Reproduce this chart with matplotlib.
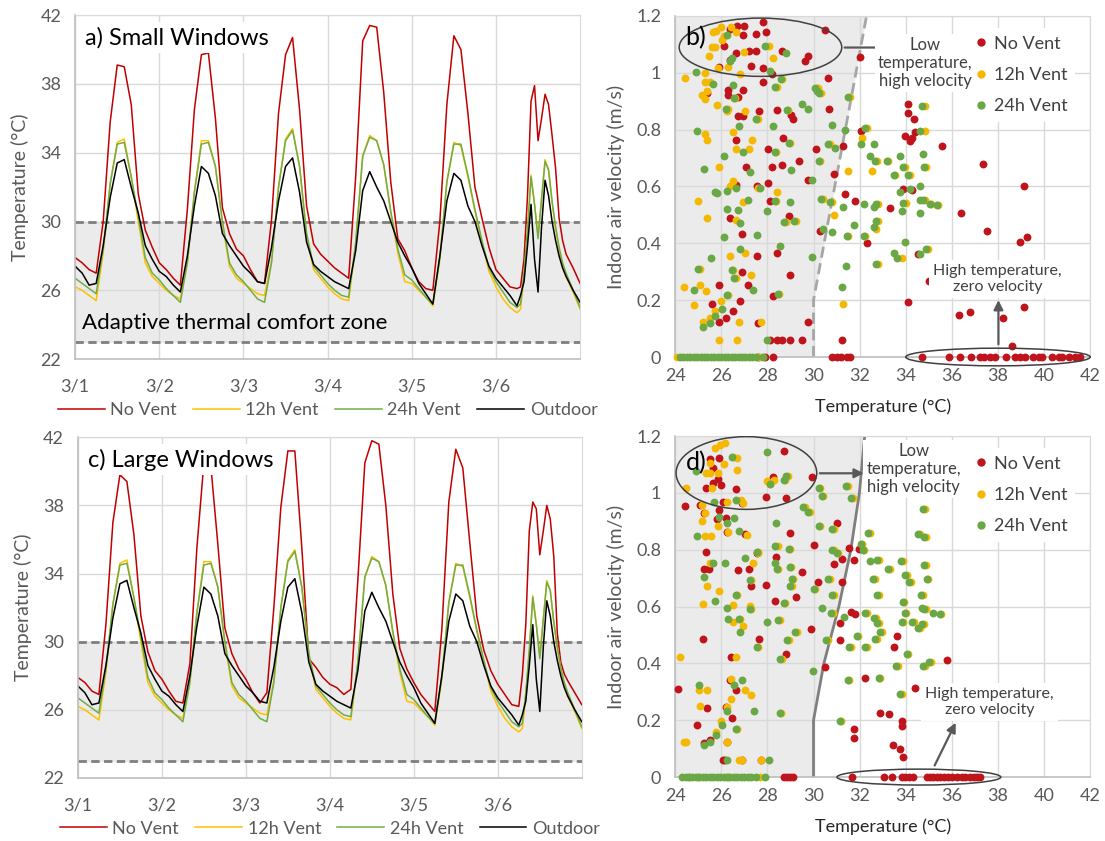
import matplotlib.pyplot as plt
from matplotlib.patches import Ellipse
from matplotlib.lines import Line2D

plt.rcParams['font.family'] = ['Lato', 'DejaVu Sans']

RED = '#c00000'
ORANGE = '#ffc000'
GREEN = '#70ad47'
DOT_RED = '#c0141c'
DOT_ORANGE = '#f5b800'
DOT_GREEN = '#6aa745'
GRAY_TXT = '#595959'

# ---- time series (hours from 3/1 00:00) ----
hours = list(range(0, 128, 2)) + list(range(127, 141)) + [142, 144]
day_labels = ['3/1', '3/2', '3/3', '3/4', '3/5', '3/6']

no_vent_small = [27.9, 27.6, 27.2, 27.0, 30.0, 35.8, 39.1, 39.0, 36.8, 31.6, 29.5, 28.5,
                 27.6, 27.2, 26.7, 26.3, 30.7, 36.5, 39.7, 39.8, 36.0, 30.8, 29.3, 28.4,
                 28.0, 27.2, 26.5, 26.4, 30.1, 36.3, 39.7, 40.7, 36.5, 30.9, 28.7, 28.1,
                 27.7, 27.3, 27.0, 26.7, 32.6, 40.5, 41.4, 41.3, 37.5, 32.3, 29.0, 28.3,
                 27.3, 26.5, 26.1, 26.0, 30.0, 36.8, 40.8, 40.0, 36.3, 32.0, 30.2, 28.5,
                 27.2, 26.7, 26.2, 26.1,
                 26.2, 27.8, 31.5, 37.0, 37.9, 34.7, 36.0, 37.4, 36.8, 35.0, 33.1, 30.2, 28.9, 28.1,
                 27.3, 26.4]
no_vent_large = [27.9, 27.6, 27.1, 26.9, 31.0, 37.0, 39.8, 39.4, 36.3, 31.5, 29.4, 28.3,
                 27.8, 27.1, 26.5, 26.4, 28.7, 35.5, 40.5, 40.3, 35.7, 30.8, 29.3, 28.4,
                 27.8, 27.0, 26.4, 27.0, 32.0, 37.9, 41.2, 41.2, 35.5, 29.0, 28.5, 27.9,
                 27.5, 27.3, 26.9, 27.2, 33.6, 40.5, 41.8, 41.6, 38.0, 32.8, 29.6, 28.4,
                 27.6, 26.9, 26.4, 25.9, 30.7, 38.2, 41.3, 40.2, 35.8, 31.5, 29.5, 28.3,
                 27.5, 26.9, 26.3, 26.2,
                 28.0, 31.0, 36.5, 38.2, 37.8, 35.1, 36.5, 38.0, 37.2, 35.0, 30.5, 28.8, 28.1, 27.7,
                 27.0, 26.3]
vent_12h = [26.2, 26.0, 25.7, 25.4, 28.2, 32.2, 34.6, 34.8, 32.6, 30.0, 27.6, 26.8,
            26.4, 26.0, 25.7, 25.5, 27.6, 31.7, 34.7, 34.7, 33.2, 29.9, 27.4, 26.7,
            26.4, 26.1, 25.8, 25.7, 27.7, 32.0, 34.8, 35.4, 33.2, 29.2, 27.2, 26.7,
            26.2, 25.8, 25.5, 25.4, 28.7, 33.8, 35.0, 34.7, 33.3, 30.5, 28.2, 26.5,
            26.4, 26.0, 25.6, 25.1, 27.8, 32.3, 34.6, 34.4, 32.6, 30.6, 28.8, 27.1,
            26.2, 25.5, 25.0, 24.7,
            24.9, 26.8, 29.4, 32.7, 31.0, 29.2, 31.3, 33.6, 33.0, 31.1, 29.6, 28.4, 27.4, 26.8,
            25.9, 24.9]
vent_24h = [26.7, 26.4, 26.1, 25.8, 28.4, 32.2, 34.5, 34.6, 32.6, 30.3, 27.9, 27.0,
            26.6, 26.1, 25.7, 25.3, 27.6, 31.7, 34.5, 34.6, 33.2, 30.0, 27.6, 26.9,
            26.5, 26.0, 25.5, 25.3, 27.6, 32.0, 34.7, 35.3, 33.2, 29.3, 27.4, 26.9,
            26.4, 26.0, 25.7, 25.6, 28.8, 33.8, 34.9, 34.7, 33.3, 30.6, 28.4, 26.9,
            26.6, 26.1, 25.6, 25.2, 27.9, 32.3, 34.5, 34.5, 32.7, 30.7, 28.9, 27.3,
            26.5, 25.9, 25.3, 25.0,
            25.2, 27.0, 29.5, 32.6, 31.0, 29.0, 31.3, 33.5, 33.0, 31.2, 29.7, 28.5, 27.6, 27.0,
            26.0, 25.0]
outdoor = [27.4, 27.0, 26.3, 26.4, 28.6, 31.4, 33.4, 33.6, 32.0, 30.5, 28.6, 27.8,
           27.1, 26.8, 26.3, 25.9, 28.0, 30.9, 33.2, 32.8, 31.5, 29.3, 28.6, 28.0,
           27.4, 27.0, 26.5, 26.4, 28.5, 31.2, 33.2, 33.7, 31.7, 28.8, 27.5, 27.1,
           26.8, 26.5, 26.3, 26.1, 28.3, 31.8, 32.9, 32.0, 31.2, 30.0, 28.8, 28.0,
           27.3, 26.4, 25.8, 25.2, 28.0, 31.2, 32.8, 32.4, 30.9, 30.0, 28.6, 27.4,
           26.7, 26.2, 25.7, 25.1,
           25.7, 26.5, 28.6, 31.0, 27.8, 25.9, 29.7, 32.4, 31.5, 30.0, 28.9, 28.0, 27.3, 26.8,
           26.0, 25.3]

# ---- scatter data (temperature °C, air velocity m/s) ----
b_no_vent = [(27.83, 1.18), (26.67, 1.165), (26.99, 1.163), (26.38, 1.153), (26.93, 1.133), (27.5, 1.136),
             (27.93, 1.143), (30.5, 1.151), (26.14, 1.095), (27.21, 1.078), (27.5, 1.078), (28.65, 1.078),
             (26.62, 1.069), (29.78, 1.059), (29.64, 1.04), (27.31, 1.025), (27.79, 1.018), (25.92, 1.022),
             (26.36, 1.045), (32.0, 1.055), (28.19, 0.996), (30.62, 0.983), (27.83, 0.966), (26.31, 0.94),
             (26.31, 0.922), (26.96, 0.94), (25.37, 0.928), (26.73, 0.914), (30.68, 0.874), (27.63, 0.866),
             (28.42, 0.87), (29.03, 0.852), (29.09, 0.837), (26.72, 0.848), (26.96, 0.848), (32.05, 0.797),
             (28.67, 0.77), (26.62, 0.762), (28.02, 0.731), (30.1, 0.731), (31.3, 0.741), (29.38, 0.691),
             (28.63, 0.675), (28.19, 0.667), (27.08, 0.67), (30.9, 0.645), (29.78, 0.622), (28.02, 0.614),
             (27.54, 0.6), (26.63, 0.606), (31.37, 0.575), (31.81, 0.548), (28.12, 0.548), (28.94, 0.497),
             (26.36, 0.488), (30.29, 0.445), (26.89, 0.432), (32.31, 0.401), (27.54, 0.354), (28.41, 0.366),
             (26.89, 0.298), (28.99, 0.288), (27.15, 0.253), (25.88, 0.253), (25.59, 0.186), (26.21, 0.136),
             (26.53, 0.163), (25.88, 0.123), (26.82, 0.198), (28.24, 0.216), (27.59, 0.12), (29.74, 0.124),
             (28.12, 0.061), (28.41, 0.061), (28.63, 0.061), (28.99, 0.061), (29.51, 0.061), (31.23, 0.059),
             (34.08, 0.891), (34.08, 0.858), (34.38, 0.837), (35.57, 0.743), (33.97, 0.776), (34.26, 0.77),
             (34.19, 0.761), (34.4, 0.791), (37.37, 0.679), (39.11, 0.6), (36.4, 0.505), (33.32, 0.523),
             (37.52, 0.445), (38.97, 0.405), (39.25, 0.422), (34.55, 0.363), (34.99, 0.266), (34.12, 0.192),
             (39.11, 0.176), (36.33, 0.149), (36.79, 0.158), (38.24, 0.137), (38.6, 0.038), (33.9, 0.59),
             (34.26, 0.588),
             (27.6, 0), (27.9, 0), (28.26, 0), (30.8, 0), (31.0, 0), (31.2, 0), (31.45, 0), (31.6, 0),
             (34.7, 0), (35.86, 0), (36.37, 0), (36.85, 0), (37.24, 0), (37.38, 0), (37.67, 0), (37.89, 0),
             (38.36, 0), (38.75, 0), (38.97, 0), (39.18, 0), (39.54, 0), (39.76, 0), (39.9, 0), (40.34, 0),
             (40.63, 0), (40.77, 0), (41.06, 0), (41.35, 0), (41.54, 0)]
b_vent_12h = [(25.98, 1.16), (25.76, 1.148), (25.62, 1.143), (26.41, 1.16), (26.65, 1.143), (26.1, 1.13),
              (26.02, 1.116), (25.59, 1.092), (25.73, 1.092), (28.05, 1.095), (25.45, 1.059), (26.99, 1.072),
              (28.24, 1.051), (25.87, 1.016), (26.31, 1.022), (26.82, 0.996), (25.3, 1.001), (24.43, 0.983),
              (25.3, 0.969), (25.52, 0.969), (25.16, 0.922), (25.3, 0.907), (25.37, 0.937), (25.81, 0.888),
              (26.24, 0.864), (27.03, 0.866), (27.57, 0.837), (26.5, 0.791), (25.3, 0.783), (25.4, 0.762),
              (26.65, 0.731), (27.35, 0.762), (27.22, 0.731), (25.88, 0.67), (31.49, 0.656), (32.53, 0.656),
              (26.5, 0.618), (26.36, 0.6), (28.41, 0.582), (26.93, 0.545), (25.01, 0.548), (25.4, 0.488),
              (26.62, 0.483), (30.91, 0.5), (27.01, 0.366), (26.36, 0.354), (27.28, 0.288), (24.39, 0.246),
              (25.08, 0.253), (25.34, 0.231), (24.81, 0.184), (26.0, 0.196), (25.71, 0.163), (25.49, 0.136),
              (25.2, 0.123), (26.78, 0.123), (27.72, 0.123), (25.92, 0.061), (26.67, 0.061), (31.27, 0.188),
              (32.32, 0.805), (32.1, 0.77), (31.57, 0.916), (30.2, 0.945), (30.33, 0.93), (34.83, 0.884),
              (34.85, 0.797), (34.9, 0.67), (34.97, 0.38), (33.82, 0.348), (32.8, 0.327), (32.8, 0.477),
              (32.8, 0.537), (32.7, 0.45), (34.0, 0.541), (35.1, 0.54), (35.42, 0.536), (34.85, 0.553),
              (30.7, 0.748), (34.2, 0.641), (33.55, 0.641), (33.96, 0.667), (33.25, 0.688), (32.75, 0.688),
              (30.3, 0.688), (32.25, 0.427), (31.5, 0.427), (30.4, 0.557), (30.8, 0.545), (28.39, 0.548),
              (28.8, 0.475), (29.25, 0.479), (27.6, 0.596), (28.37, 0.723), (29.0, 0.752), (28.9, 0.87),
              (30.14, 0.948), (28.65, 0.977), (28.4, 0.951), (26.6, 0.913), (26.3, 0.874), (27.58, 0.839),
              (25.07, 0.309), (26.52, 0.307), (26.62, 0.277), (28.52, 0.223), (26.3, 0.219),
              (24.07, 0), (27.69, 0)]
b_vent_24h = [(24.9, 1.003), (26.24, 1.134), (27.9, 1.095), (28.81, 1.069), (26.38, 1.04), (26.46, 1.051),
              (28.12, 1.008), (28.58, 0.977), (26.53, 0.956), (25.66, 0.961), (28.34, 0.951), (26.56, 0.913),
              (30.07, 0.948), (30.14, 0.937), (30.26, 0.928), (31.49, 0.916), (29.52, 0.891), (29.74, 0.874),
              (28.84, 0.87), (26.2, 0.874), (27.51, 0.839), (26.78, 0.813), (28.26, 0.813), (24.94, 0.797),
              (30.81, 0.817), (31.37, 0.799), (32.24, 0.805), (28.92, 0.752), (30.62, 0.748), (30.95, 0.736),
              (32.05, 0.748), (32.63, 0.748), (26.96, 0.723), (28.31, 0.723), (26.14, 0.708), (32.43, 0.709),
              (33.76, 0.709), (34.74, 0.714), (30.22, 0.688), (32.68, 0.688), (33.18, 0.688), (33.87, 0.667),
              (34.81, 0.67), (25.23, 0.661), (27.24, 0.65), (29.03, 0.659), (33.47, 0.641), (34.12, 0.641),
              (29.93, 0.624), (25.81, 0.577), (25.73, 0.582), (26.24, 0.585), (26.62, 0.596), (27.69, 0.596),
              (33.73, 0.579), (34.19, 0.59), (34.6, 0.6), (27.18, 0.553), (28.31, 0.548), (28.96, 0.545),
              (30.33, 0.557), (30.72, 0.545), (32.17, 0.54), (33.9, 0.541), (34.6, 0.553), (34.77, 0.553),
              (35.06, 0.54), (35.35, 0.536), (26.24, 0.521), (26.72, 0.518), (28.0, 0.513), (31.27, 0.527),
              (32.63, 0.527), (32.72, 0.537), (33.83, 0.513), (34.63, 0.506), (26.82, 0.473), (28.74, 0.475),
              (29.17, 0.479), (30.43, 0.45), (30.81, 0.439), (31.76, 0.465), (32.63, 0.456), (32.72, 0.477),
              (26.1, 0.422), (27.54, 0.431), (31.45, 0.427), (32.17, 0.427), (33.97, 0.404), (26.82, 0.38),
              (28.53, 0.391), (29.93, 0.353), (25.56, 0.349), (33.47, 0.366), (33.61, 0.348), (34.6, 0.363),
              (34.89, 0.38), (25.01, 0.309), (26.46, 0.307), (26.56, 0.277), (31.42, 0.319), (32.72, 0.327),
              (27.37, 0.237), (24.8, 0.237), (26.24, 0.219), (28.45, 0.223), (31.23, 0.248), (26.02, 0.17),
              (25.52, 0.12), (25.2, 0.105), (25.74, 0.143), (27.98, 0.061), (34.7, 0.884), (34.6, 0.797),
              (24.2, 0), (24.35, 0), (24.5, 0), (24.65, 0), (24.8, 0), (24.95, 0), (25.1, 0), (25.25, 0),
              (25.4, 0), (25.55, 0), (25.7, 0), (25.85, 0), (26.0, 0), (26.15, 0), (26.3, 0), (26.45, 0),
              (26.6, 0), (26.75, 0), (26.9, 0), (27.05, 0), (27.2, 0), (27.35, 0), (27.5, 0), (27.83, 0)]

d_no_vent = [(25.92, 1.122), (25.52, 1.118), (25.63, 1.086), (25.85, 1.048), (25.66, 1.034), (26.0, 1.028),
             (25.34, 1.018), (26.63, 1.014), (28.74, 1.148), (28.24, 1.055), (29.93, 1.055), (27.93, 0.984),
             (28.81, 0.981), (26.89, 0.963), (24.43, 0.954), (25.08, 0.957), (26.07, 0.969), (25.89, 0.94),
             (25.23, 0.93), (25.81, 0.907), (26.21, 0.913), (26.24, 0.864), (28.96, 0.858), (27.05, 0.855),
             (31.03, 0.893), (30.03, 0.816), (31.56, 0.807), (31.99, 0.802), (25.32, 0.793), (27.57, 0.788),
             (28.38, 0.776), (31.23, 0.768), (31.76, 0.764), (25.26, 0.732), (25.45, 0.732), (27.2, 0.732),
             (26.72, 0.729), (30.91, 0.75), (29.48, 0.72), (30.19, 0.686), (31.23, 0.686), (27.93, 0.676),
             (27.28, 0.673), (29.23, 0.633), (28.34, 0.62), (31.61, 0.58), (31.79, 0.573), (31.16, 0.543),
             (29.87, 0.52), (31.13, 0.483), (25.2, 0.486), (27.64, 0.486), (33.61, 0.495), (33.5, 0.459),
             (28.81, 0.432), (26.41, 0.424), (35.78, 0.412), (30.51, 0.389), (32.24, 0.35), (34.41, 0.313),
             (24.14, 0.309), (26.36, 0.342), (26.62, 0.305), (25.37, 0.243), (26.21, 0.246), (26.46, 0.207),
             (24.94, 0.184), (32.89, 0.225), (33.28, 0.221), (33.83, 0.196), (33.83, 0.178), (31.76, 0.169),
             (31.76, 0.139), (33.44, 0.114), (33.73, 0.1), (33.9, 0.069), (25.23, 0.12), (25.52, 0.129),
             (26.24, 0.122), (26.07, 0.061), (26.17, 0.061), (26.89, 0.061), (27.72, 0.061),
             (28.7, 0), (28.84, 0), (28.96, 0), (29.1, 0), (31.66, 0), (33.04, 0), (33.4, 0), (33.83, 0),
             (33.98, 0), (34.16, 0), (34.31, 0), (34.92, 0), (35.06, 0), (35.18, 0), (35.35, 0), (35.49, 0),
             (35.64, 0), (35.83, 0), (36.0, 0), (36.22, 0), (36.43, 0), (36.58, 0), (36.77, 0), (36.94, 0),
             (37.08, 0), (37.23, 0)]
d_vent_12h = [(26.17, 1.174), (25.95, 1.168), (25.73, 1.157), (25.49, 1.106), (26.69, 1.124), (26.1, 1.102),
              (25.33, 1.071), (25.52, 1.069), (25.84, 1.071), (26.67, 1.081), (25.59, 1.016), (24.48, 1.016),
              (27.98, 1.042), (28.27, 1.045), (26.24, 0.969), (26.85, 0.975), (26.93, 0.963), (25.16, 0.957),
              (25.3, 0.928), (25.16, 0.902), (25.3, 0.85), (25.55, 0.85), (25.84, 0.885), (26.28, 0.864),
              (27.1, 0.852), (25.5, 0.752), (27.37, 0.752), (27.61, 0.788), (25.37, 0.674), (25.91, 0.656),
              (25.2, 0.608), (26.5, 0.604), (26.96, 0.533), (26.5, 0.547), (27.23, 0.602), (24.22, 0.424),
              (26.63, 0.424), (26.41, 0.345), (26.41, 0.274), (27.04, 0.305), (27.3, 0.289), (25.08, 0.251),
              (25.05, 0.305), (25.37, 0.305), (26.24, 0.246), (25.77, 0.157), (24.39, 0.122), (24.48, 0.122),
              (26.24, 0.122), (26.0, 0.196), (26.79, 0.061), (26.89, 0.061), (27.72, 0.061), (33.83, 0.292),
              (31.19, 0.199),
              (34.85, 0.942), (34.88, 0.846), (34.62, 0.854), (32.43, 0.858), (32.1, 0.82), (32.2, 0.799),
              (30.9, 0.799), (31.08, 0.788), (30.88, 0.872), (30.3, 0.885), (30.42, 0.989), (31.7, 0.981),
              (31.5, 1.024), (30.28, 1.016), (29.85, 0.934), (29.62, 0.949), (33.88, 0.759), (32.85, 0.764),
              (34.88, 0.745), (33.3, 0.732), (34.05, 0.711), (32.68, 0.697), (34.98, 0.697), (34.24, 0.686),
              (30.7, 0.697), (32.82, 0.641), (34.75, 0.641), (30.9, 0.641), (30.08, 0.662), (33.94, 0.615),
              (34.03, 0.577), (34.89, 0.591), (35.55, 0.573), (32.32, 0.577), (30.83, 0.577), (32.7, 0.559),
              (32.82, 0.543), (33.9, 0.547), (34.36, 0.544), (34.78, 0.538), (34.6, 0.526), (32.96, 0.511),
              (32.75, 0.486), (31.95, 0.495), (30.62, 0.482), (31.62, 0.456), (32.3, 0.456), (34.12, 0.434),
              (35.08, 0.404), (34.82, 0.391), (33.66, 0.391), (31.56, 0.342), (32.9, 0.348), (28.62, 0.416),
              (29.03, 0.738), (28.48, 0.732), (27.6, 0.792), (29.0, 0.802), (28.45, 0.813), (29.13, 0.696),
              (29.07, 0.674), (27.3, 0.694), (26.7, 0.639), (28.77, 0.612), (26.82, 0.557), (27.3, 0.591),
              (28.55, 0.551), (28.92, 0.482), (29.28, 0.511), (27.6, 0.459), (28.6, 0.225), (26.7, 0.169),
              (28.1, 1.03), (28.77, 1.045), (28.88, 1.059), (26.53, 1.125),
              (24.6, 0), (25.0, 0), (26.3, 0), (27.69, 0)]
d_vent_24h = [(24.91, 1.077), (26.46, 1.125), (27.98, 1.145), (28.7, 1.045), (28.81, 1.059), (28.12, 1.03),
              (26.63, 0.975), (25.69, 0.969), (30.22, 1.016), (30.36, 0.989), (31.42, 1.024), (31.63, 0.981),
              (29.56, 0.949), (29.78, 0.934), (25.88, 0.916), (26.24, 0.895), (26.56, 0.91), (28.38, 0.893),
              (24.94, 0.85), (26.79, 0.867), (30.22, 0.885), (30.82, 0.872), (32.36, 0.858), (34.55, 0.854),
              (34.81, 0.846), (34.77, 0.942), (32.05, 0.82), (32.14, 0.799), (30.82, 0.799), (31.0, 0.788),
              (28.34, 0.813), (28.93, 0.802), (27.54, 0.792), (27.01, 0.772), (25.62, 0.755), (26.17, 0.755),
              (28.34, 0.755), (28.41, 0.732), (28.96, 0.738), (32.45, 0.759), (32.77, 0.764), (33.8, 0.759),
              (34.81, 0.745), (33.22, 0.732), (33.97, 0.711), (25.25, 0.705), (27.25, 0.694), (29.06, 0.696),
              (32.6, 0.697), (34.91, 0.697), (34.16, 0.686), (30.62, 0.697), (29.0, 0.674), (26.63, 0.639),
              (28.7, 0.612), (32.75, 0.641), (34.67, 0.641), (30.82, 0.641), (30.0, 0.662), (25.74, 0.621),
              (26.27, 0.594), (27.23, 0.591), (30.36, 0.594), (30.75, 0.577), (32.24, 0.577), (33.86, 0.615),
              (33.95, 0.577), (34.7, 0.594), (34.81, 0.591), (35.2, 0.577), (35.49, 0.573), (26.3, 0.557),
              (26.75, 0.557), (28.0, 0.547), (28.48, 0.551), (31.34, 0.564), (32.63, 0.559), (32.75, 0.543),
              (33.83, 0.547), (34.28, 0.544), (34.7, 0.538), (34.52, 0.526), (26.82, 0.509), (29.2, 0.511),
              (32.89, 0.511), (32.68, 0.486), (28.84, 0.482), (30.55, 0.482), (31.88, 0.495), (27.54, 0.459),
              (31.56, 0.456), (32.24, 0.456), (34.05, 0.434), (28.55, 0.416), (35.0, 0.404), (34.74, 0.391),
              (33.58, 0.391), (29.97, 0.374), (31.49, 0.342), (32.82, 0.348), (26.89, 0.342), (25.04, 0.325),
              (26.56, 0.325), (33.73, 0.292), (27.4, 0.234), (26.27, 0.234), (28.55, 0.225), (31.13, 0.199),
              (26.02, 0.184), (26.63, 0.169), (25.78, 0.148), (25.52, 0.125), (25.23, 0.114), (26.27, 0.061),
              (28.05, 0.061),
              (24.3, 0), (24.45, 0), (24.6, 0), (24.75, 0), (24.9, 0), (25.05, 0), (25.2, 0), (25.35, 0),
              (25.5, 0), (25.65, 0), (25.8, 0), (25.95, 0), (26.1, 0), (26.25, 0), (26.4, 0), (26.55, 0),
              (26.7, 0), (26.85, 0), (27.0, 0), (27.15, 0), (27.3, 0), (27.5, 0), (27.9, 0)]

# comfort boundary (temperature at given velocity)
b_bound_t = [30, 30, 32.3]
b_bound_v = [0, 0.2, 1.2]
d_bound_t = [30, 30, 30.45, 31.1, 31.62, 31.99, 32.22]
d_bound_v = [0, 0.2, 0.4, 0.6, 0.8, 1.0, 1.2]


def time_panel(ax, no_vent, title, zone_label):
    ax.axhspan(23, 30, color='#ebebeb', zorder=0)
    for y in (30, 23):
        ax.axhline(y, color='#7f7f7f', lw=2, ls=(0, (3, 1.6)), zorder=1.5)
    ax.plot(hours, no_vent, color=RED, lw=1.1, label='No Vent', zorder=2)
    ax.plot(hours, vent_12h, color=ORANGE, lw=1.1, label='12h Vent', zorder=2)
    ax.plot(hours, vent_24h, color=GREEN, lw=1.1, label='24h Vent', zorder=2)
    ax.plot(hours, outdoor, color='black', lw=1.1, label='Outdoor', zorder=2)
    ax.set_xlim(0, 144)
    ax.set_ylim(22, 42)
    ax.set_xticks(range(0, 121, 24))
    ax.set_xticklabels(day_labels)
    ax.set_yticks(range(22, 43, 4))
    ax.grid(color='#d9d9d9', lw=1)
    ax.set_axisbelow(True)
    for side in ('top', 'right'):
        ax.spines[side].set_color('#d9d9d9')
    for side in ('left', 'bottom'):
        ax.spines[side].set_color('#bfbfbf')
        ax.spines[side].set_linewidth(1.2)
    ax.tick_params(length=0, colors=GRAY_TXT, labelsize=13)
    ax.tick_params(axis='x', pad=14)
    ax.tick_params(axis='y', pad=10)
    ax.set_ylabel('Temperature (°C)', color=GRAY_TXT, fontsize=14, labelpad=8)
    ax.text(0.02, 0.935, title, transform=ax.transAxes, fontsize=17, va='center',
            bbox=dict(facecolor='white', edgecolor='none', pad=3), zorder=6)
    if zone_label:
        ax.text(2, 24.1, 'Adaptive thermal comfort zone', fontsize=16, va='center', zorder=6)
    ax.legend(loc='upper center', bbox_to_anchor=(0.5, -0.104), ncol=4, frameon=False,
              fontsize=13, handlelength=2.6, handletextpad=0.3, columnspacing=0.9,
              labelcolor=GRAY_TXT, borderaxespad=0)


def scatter_panel(ax, no_vent, v12, v24, bound_t, bound_v, bound_style, label,
                  hi_ell, hi_arrow, hi_text, zero_ell, zero_arrow, zero_text):
    ax.fill_betweenx(bound_v, 24, bound_t, color='#ebebeb', zorder=0, lw=0)
    if bound_style == 'dashed':
        ax.plot(bound_t, bound_v, color='#a6a6a6', lw=2, ls=(0, (4, 2)), zorder=1)
    else:
        ax.plot(bound_t, bound_v, color='#7f7f7f', lw=2, zorder=1)
    for pts, col in ((no_vent, DOT_RED), (v12, DOT_ORANGE), (v24, DOT_GREEN)):
        t, v = zip(*pts)
        ax.scatter(t, v, s=32, color=col, zorder=3, clip_on=False, linewidths=0)
    ax.set_xlim(24, 42)
    ax.set_ylim(0, 1.2)
    ax.set_xticks(range(24, 43, 2))
    ax.set_yticks([0, 0.2, 0.4, 0.6, 0.8, 1.0, 1.2])
    ax.set_yticklabels(['0', '0.2', '0.4', '0.6', '0.8', '1', '1.2'])
    ax.grid(color='#d9d9d9', lw=1)
    ax.set_axisbelow(True)
    for side in ('top', 'right'):
        ax.spines[side].set_color('#d9d9d9')
    for side in ('left', 'bottom'):
        ax.spines[side].set_color('#bfbfbf')
        ax.spines[side].set_linewidth(1.2)
    ax.tick_params(length=0, colors=GRAY_TXT, labelsize=13)
    ax.tick_params(axis='x', pad=8)
    ax.tick_params(axis='y', pad=10)
    ax.set_xlabel('Temperature (°C)', color='#262626', fontsize=13, labelpad=10)
    ax.set_ylabel('Indoor air velocity (m/s)', color=GRAY_TXT, fontsize=14, labelpad=8)
    ax.text(24.45, hi_ell[1] + 0.035, label, fontsize=18, va='center', zorder=6)

    ax.add_patch(Ellipse(hi_ell[:2], hi_ell[2], hi_ell[3], fill=False, ec='#404040', lw=1.1, zorder=5))
    ax.annotate('', xy=hi_arrow[1], xytext=hi_arrow[0],
                arrowprops=dict(arrowstyle='-|>', color='#595959', lw=1.6, mutation_scale=14), zorder=5)
    ax.text(hi_text[0], hi_text[1], 'Low\ntemperature,\nhigh velocity', fontsize=12, color='#404040',
            ha='center', va='center', linespacing=1.15,
            bbox=dict(facecolor='white', edgecolor='none', pad=2), zorder=7)
    ax.add_patch(Ellipse(zero_ell[:2], zero_ell[2], zero_ell[3], fill=False, ec='#404040', lw=1.1,
                         zorder=5, clip_on=False))
    ax.annotate('', xy=zero_arrow[1], xytext=zero_arrow[0],
                arrowprops=dict(arrowstyle='-|>', color='#595959', lw=1.6, mutation_scale=14), zorder=5)
    ax.text(zero_text[0], zero_text[1], 'High temperature,\nzero velocity', fontsize=11.5, color='#404040',
            ha='center', va='center', linespacing=1.2,
            bbox=dict(facecolor='white', edgecolor='none', pad=3), zorder=4)

    handles = [Line2D([], [], ls='none', marker='o', ms=5, color=c) for c in (DOT_RED, DOT_ORANGE, DOT_GREEN)]
    leg = ax.legend(handles, ['No Vent', '12h Vent', '24h Vent'], loc='upper right',
                    bbox_to_anchor=(0.985, 0.99), fontsize=13, labelspacing=0.85, handletextpad=0.1,
                    frameon=True, facecolor='white', edgecolor='none', framealpha=1,
                    labelcolor='#404040', borderpad=0.4, handlelength=1.2)
    leg.set_zorder(6)


fig = plt.figure(figsize=(11.05, 8.41), dpi=100)
ax_a = fig.add_axes([0.068, 0.573, 0.457, 0.409])
ax_b = fig.add_axes([0.611, 0.5755, 0.3756, 0.4055])
ax_c = fig.add_axes([0.0705, 0.075, 0.456, 0.405])
ax_d = fig.add_axes([0.611, 0.076, 0.3756, 0.4055])

time_panel(ax_a, no_vent_small, 'a) Small Windows', True)
time_panel(ax_c, no_vent_large, 'c) Large Windows', False)

scatter_panel(ax_b, b_no_vent, b_vent_12h, b_vent_24h, b_bound_t, b_bound_v, 'dashed', 'b)',
              (27.7, 1.09, 7.05, 0.205), ((31.23, 1.089), (33.6, 1.089)), (34.85, 1.034),
              (38.0, 0.0, 8.0, 0.062), ((38.02, 0.035), (38.02, 0.21)), (37.98, 0.274))
scatter_panel(ax_d, d_no_vent, d_vent_12h, d_vent_24h, d_bound_t, d_bound_v, 'solid', 'd)',
              (27.09, 1.07, 6.1, 0.256), ((30.15, 1.069), (32.3, 1.069)), (34.34, 1.084),
              (34.57, 0.0, 7.1, 0.056), ((35.2, 0.032), (36.22, 0.2)), (37.63, 0.265))

fig.savefig('out.png', dpi=100)
